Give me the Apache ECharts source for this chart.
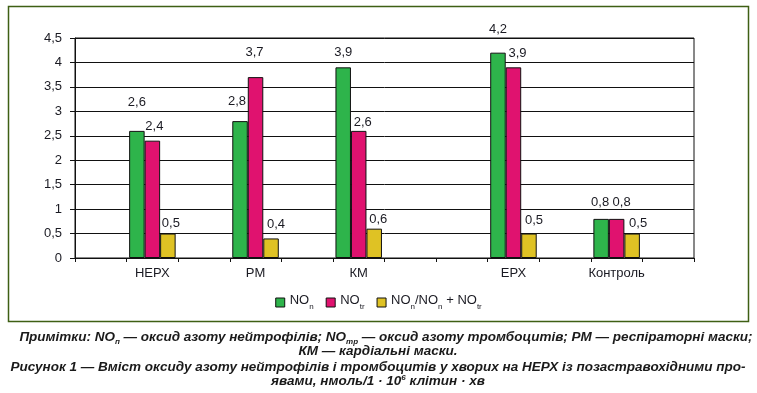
<!DOCTYPE html>
<html>
<head>
<meta charset="utf-8">
<script src="https://cdn.jsdelivr.net/npm/echarts@6/dist/echarts.min.js"></script>
<style>
html,body{margin:0;padding:0;background:#fff;}
#chart{width:757px;height:393px;}
</style>
</head>
<body>
<div id="chart"></div>
<script>
// Category slots (blank slots reproduce the gaps of the original chart)
const categories = ['', 'НЕРХ', '', 'РМ', '', 'КМ', '', '', 'ЕРХ', '', 'Контроль', ''];
const seriesNames = ['NOn', 'NOtr', 'NOn/NOn + NOtr'];
const valuesNOn = ['-', 2.6, '-', 2.8, '-', 3.9, '-', '-', 4.2, '-', 0.8, '-'];
const valuesNOtr = ['-', 2.4, '-', 3.7, '-', 2.6, '-', '-', 3.9, '-', 0.8, '-'];
const valuesRatio = ['-', 0.5, '-', 0.4, '-', 0.6, '-', '-', 0.5, '-', 0.5, '-'];
const yTicks = { min: 0, max: 4.5, interval: 0.5 };

const captionLines = [
  '{b|Примітки: NO}{s|п}{b| — оксид азоту нейтрофілів; NO}{s|тр}{b| — оксид азоту тромбоцитів; РМ — респіраторні маски;}',
  '{b|КМ — кардіальні маски.}',
  '{b|Рисунок 1 — Вміст оксиду азоту нейтрофілів і тромбоцитів у хворих на НЕРХ із позастравохідними про-}',
  '{b|явами, нмоль/1 · 10}{p|6}{b| клітин · хв}'
];

// label placement styling (per drawn bar, in order of non-empty slots)
const labelStyleDist = [[22, 13, 8, 17, 10], [8, 18, 2, 7, 10], [4, 8, 3, 7, 4]];
const labelStyleDx = [[0, -3, 0, 0, -1], [2, -1, 4, 4, 5], [3, 5, 4, 5, 6]];

const FONT = '"Liberation Sans", Arial, sans-serif';
const TXT = '#1a1a22';
const comma = v => String(v).replace('.', ',');

const chart = echarts.init(document.getElementById('chart'), null, { renderer: 'canvas' });

const legendRich = {
  a: { fontFamily: FONT, fontSize: 13, color: TXT, verticalAlign: 'bottom', padding: [0, 0, 4, 0] },
  s: { fontFamily: FONT, fontSize: 8, color: TXT, verticalAlign: 'bottom' }
};
const legendText = {
  'NOn': '{a|NO}{s|n}',
  'NOtr': '{a|NO}{s|tr}',
  'NOn/NOn + NOtr': '{a|NO}{s|n}{a|/NO}{s|n}{a| + NO}{s|tr}'
};

const capFont = { fontFamily: FONT, fontWeight: 'bold', fontStyle: 'italic', fill: '#1a1a1a', verticalAlign: 'bottom' };
const capRich = {
  b: Object.assign({ fontSize: 13.5, padding: [0, 0, 2, 0] }, capFont),
  s: Object.assign({ fontSize: 8 }, capFont),
  p: Object.assign({ fontSize: 8, padding: [0, 0, 8, 0] }, capFont)
};
const capCenters = [386, 378, 378, 378];
const capY = [338, 352, 368, 382];

const colors = ['#2eb44b', '#e0126f', '#dfc224'];
const seriesData = [valuesNOn, valuesNOtr, valuesRatio];

function buildData(vals, s) {
  let k = 0;
  return vals.map(v => {
    if (v === '-') return '-';
    const item = { value: v, label: { distance: labelStyleDist[s][k], offset: [labelStyleDx[s][k], 0] } };
    k++;
    return item;
  });
}

const option = {
  animation: false,
  backgroundColor: '#fff',
  grid: { left: 75, top: 38, width: 619, height: 220, show: true, borderColor: '#111', borderWidth: 1, containLabel: false },
  legend: {
    data: seriesNames,
    left: 'center', top: 289,
    icon: 'rect', itemWidth: 9, itemHeight: 9, itemGap: 12,
    itemStyle: { borderColor: '#111', borderWidth: 1 },
    formatter: n => legendText[n],
    textStyle: { rich: legendRich }
  },
  xAxis: {
    type: 'category', data: categories,
    axisLine: { lineStyle: { color: '#111', width: 1 } },
    axisTick: { show: true, interval: 0, length: 4, lineStyle: { color: '#111' } },
    axisLabel: { interval: 0, margin: 9, fontFamily: FONT, fontSize: 13, color: TXT }
  },
  yAxis: {
    type: 'value', min: yTicks.min, max: yTicks.max, interval: yTicks.interval,
    axisLine: { show: true, lineStyle: { color: '#111', width: 1 } },
    axisTick: { show: true, length: 5, lineStyle: { color: '#111' } },
    splitLine: { lineStyle: { color: '#111', width: 1 } },
    axisLabel: { margin: 13, fontFamily: FONT, fontSize: 13, color: TXT, formatter: v => comma(v) }
  },
  series: seriesNames.map((name, i) => ({
    name, type: 'bar', data: buildData(seriesData[i], i),
    barWidth: 15.5, barGap: '0%',
    itemStyle: { color: colors[i], borderColor: '#111', borderWidth: 1 },
    label: {
      show: true, position: 'top',
      formatter: p => comma(p.value),
      fontFamily: FONT, fontSize: 13, color: TXT
    }
  })),
  graphic: [
    { type: 'rect', z: -1, shape: { x: 8.5, y: 6.5, width: 740, height: 315 }, style: { fill: 'none', stroke: '#3f5f14', lineWidth: 1.5 } }
  ].concat(captionLines.map((t, i) => ({
    type: 'text', x: capCenters[i], y: capY[i],
    style: { text: t, rich: capRich, align: 'center', verticalAlign: 'middle', font: 'bold italic 13.5px ' + FONT, fill: '#1a1a1a' }
  })))
};
chart.setOption(option);
</script>
</body>
</html>
